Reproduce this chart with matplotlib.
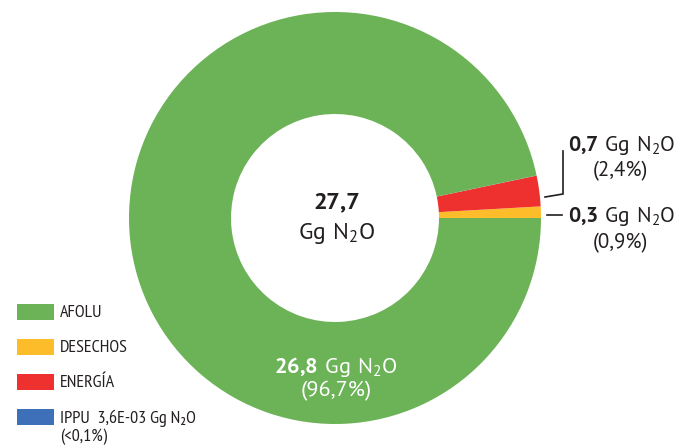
import matplotlib
matplotlib.use("Agg")
import matplotlib.pyplot as plt
from matplotlib.patches import Rectangle

# data
sectors = ["DESECHOS", "ENERGÍA", "IPPU", "AFOLU"]
pct = [0.9, 2.4, 0.013, 96.7]
colors = ["#FDBD2B", "#EE312E", "#3E70BA", "#6CB257"]

legend_labels = ["AFOLU", "DESECHOS", "ENERGÍA", "IPPU  3,6E-03 Gg N₂O"]
legend_colors = ["#6CB257", "#FDBD2B", "#EE312E", "#3E70BA"]

total = "27,7"
afolu_val, afolu_pct = "26,8", "96,7%"
energia_val, energia_pct = "0,7", "2,4%"
desechos_val, desechos_pct = "0,3", "0,9%"
ippu_pct = "<0,1%"

TXT = "#231F20"
plt.rcParams['mathtext.fontset'] = 'custom'
plt.rcParams['mathtext.rm'] = 'PT Sans'
plt.rcParams['mathtext.bf'] = 'PT Sans:bold'
plt.rcParams['font.family'] = ['PT Sans', 'DejaVu Sans']
NARROW = ['PT Sans Narrow', 'DejaVu Sans']

W, H = 693, 448
fig = plt.figure(figsize=(W / 100, H / 100), dpi=100)
ax = fig.add_axes([0, 0, 1, 1])

# donut (y axis inverted -> clockwise in data = counterclockwise on screen)
ax.pie(pct, colors=colors, startangle=0, counterclock=False,
       center=(335, 218), radius=206,
       wedgeprops=dict(width=102, linewidth=0))
ax.set_xlim(0, W)
ax.set_ylim(H, 0)
ax.set_aspect('equal')
ax.axis('off')


def gg(v, bold=True):
    v = v.replace(",", "{,}")
    if bold:
        return r"$\mathbf{%s}\ \mathrm{Gg\ N_2O}$" % v
    return r"$\mathrm{Gg\ N_2O}$"


# center total
ax.text(337, 209, r"$\mathbf{%s}$" % total.replace(",", "{,}"), ha='center', va='baseline',
        fontsize=17.5, color=TXT)
ax.text(337, 239, gg(total, bold=False), ha='center', va='baseline', fontsize=17, color=TXT)

# afolu label inside ring
ax.text(336, 373, gg(afolu_val), ha='center', va='baseline', fontsize=16, color='white')
ax.text(336, 396, "(" + afolu_pct + ")", ha='center', va='baseline', fontsize=16, color='white')

# energia label with leader
ax.plot([545, 563, 563], [197, 194, 151], color=TXT, lw=1.2, solid_joinstyle='miter')
ax.text(622, 151, gg(energia_val), ha='center', va='baseline', fontsize=15.5, color=TXT)
ax.text(620, 176, "(" + energia_pct + ")", ha='center', va='baseline', fontsize=15, color=TXT)

# desechos label with leader
ax.plot([547, 562], [215, 215], color=TXT, lw=1.2)
ax.text(622, 222, gg(desechos_val), ha='center', va='baseline', fontsize=15.5, color=TXT)
ax.text(620, 248, "(" + desechos_pct + ")", ha='center', va='baseline', fontsize=15, color=TXT)

# legend
for i, (lab, col) in enumerate(zip(legend_labels, legend_colors)):
    yc = 312 + i * 35
    ax.add_patch(Rectangle((17, yc - 8), 37, 16, facecolor=col, edgecolor='none'))
    ax.text(60, yc + 1, lab, ha='left', va='center', fontsize=13, color=TXT, family=NARROW)
ax.text(60, 437, "(" + ippu_pct + ")", ha='left', va='center', fontsize=13, color=TXT,
        family=NARROW)

fig.savefig("out.png", dpi=100)
